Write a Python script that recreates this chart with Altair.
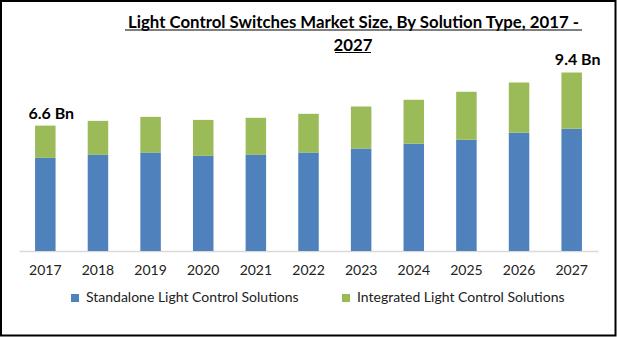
import altair as alt
import pandas as pd

years = ["2017", "2018", "2019", "2020", "2021", "2022", "2023", "2024", "2025", "2026", "2027"]
standalone = [4.90, 5.06, 5.18, 5.01, 5.06, 5.18, 5.39, 5.64, 5.85, 6.22, 6.43]
totals = [6.60, 6.85, 7.06, 6.90, 7.01, 7.22, 7.60, 7.96, 8.38, 8.87, 9.40]
integrated = [round(t - s, 2) for t, s in zip(totals, standalone)]
series = ["Standalone Light Control Solutions", "Integrated Light Control Solutions"]
colors = ["#4F81BD", "#9BBB59"]
label_years = ["2017", "2027"]
label_texts = ["6.6 Bn", "9.4 Bn"]
title_lines = ["Light Control Switches Market Size, By Solution Type, 2017 -", "2027"]

FONT = "Lato"

rows = []
for y, s, i in zip(years, standalone, integrated):
    rows.append({"year": y, "series": series[0], "value": s, "ord": 0})
    rows.append({"year": y, "series": series[1], "value": i, "ord": 1})
df = pd.DataFrame(rows)

lab_df = pd.DataFrame({
    "year": label_years,
    "total": [totals[years.index(y)] for y in label_years],
    "text": label_texts,
})

xscale = alt.Scale(domain=years, paddingInner=0.61, paddingOuter=0.305)
yscale = alt.Scale(domain=[0, 10])

bars = alt.Chart(df).mark_bar(size=20.5).encode(
    x=alt.X("year:N", scale=xscale, sort=years,
            axis=alt.Axis(title=None, labelAngle=0, ticks=False, labelFontSize=14,
                          labelFont=FONT, labelColor="#222222", domainColor="#D9D9D9",
                          domainWidth=1.5, labelPadding=12)),
    y=alt.Y("value:Q", scale=yscale, stack="zero", axis=None),
    color=alt.Color("series:N", scale=alt.Scale(domain=series, range=colors),
                    legend=alt.Legend(title=None, orient="none", legendX=49, legendY=230,
                                      direction="horizontal", columns=2, symbolType="square",
                                      symbolSize=64, symbolStrokeWidth=0, labelFontSize=14,
                                      labelFont=FONT, labelColor="#222222", labelOffset=4,
                                      labelLimit=0, columnPadding=40, padding=0)),
    order=alt.Order("ord:Q"),
)

labels = alt.Chart(lab_df).mark_text(
    fontSize=16, fontWeight="bold", font=FONT, baseline="alphabetic", dy=-7, dx=6, color="#000000"
).encode(
    x=alt.X("year:N", scale=xscale, sort=years),
    y=alt.Y("total:Q", scale=yscale),
    text="text:N",
)

title1 = alt.Chart(pd.DataFrame({"t": [title_lines[0]]})).mark_text(
    fontSize=16.8, fontWeight="bold", font=FONT, baseline="middle", align="center", color="#000000"
).encode(x=alt.value(334.5), y=alt.value(-38.5), text="t:N")

title2 = alt.Chart(pd.DataFrame({"t": [title_lines[1]]})).mark_text(
    fontSize=16.8, fontWeight="bold", font=FONT, baseline="middle", align="center", color="#000000"
).encode(x=alt.value(334), y=alt.value(-15.5), text="t:N")

ul1 = alt.Chart(pd.DataFrame({"a": [0]})).mark_rule(color="#000000", strokeWidth=1.2).encode(
    x=alt.value(106), x2=alt.value(563), y=alt.value(-31))
ul2 = alt.Chart(pd.DataFrame({"a": [0]})).mark_rule(color="#000000", strokeWidth=1.2).encode(
    x=alt.value(316), x2=alt.value(352), y=alt.value(-8.5))

border = alt.Chart(pd.DataFrame({"a": [0]})).mark_rect(
    filled=False, stroke="#000000", strokeWidth=2
).encode(x=alt.value(-18), x2=alt.value(596.5), y=alt.value(-60), y2=alt.value(274.5))

chart = alt.layer(bars, labels, title1, title2, ul1, ul2, border).properties(
    width=579, height=190,
    autosize=alt.AutoSizeParams(type="none"),
    padding={"left": 19, "right": 19, "top": 61, "bottom": 86},
    background="white",
).configure_view(stroke=None)

chart.save("out.html", embed_options={"renderer": "svg", "actions": False})
